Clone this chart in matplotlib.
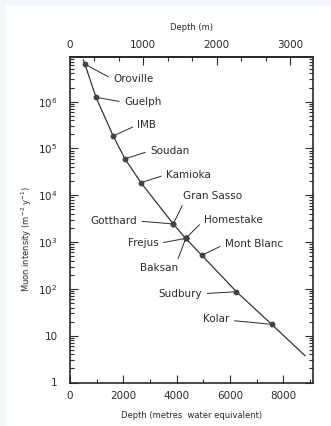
import math
import matplotlib
matplotlib.use("Agg")
import matplotlib.pyplot as plt
from matplotlib.patches import Rectangle
from matplotlib.ticker import MultipleLocator, LogLocator, FuncFormatter, NullFormatter

# sites: depth (metres water equivalent) and muon intensity (m^-2 y^-1)
sites = ["Oroville", "Guelph", "IMB", "Soudan", "Kamioka", "Gran Sasso", "Gotthard",
         "Homestake", "Frejus", "Baksan", "Mont Blanc", "Sudbury", "Kolar"]
site_depth = [560, 975, 1620, 2060, 2660, 3870, 3870, 4340, 4340, 4340, 4940, 6240, 7560]
site_flux = [6.3e6, 1.24e6, 1.85e5, 6.0e4, 1.86e4, 2.44e3, 2.44e3, 1.2e3, 1.2e3, 1.2e3, 523, 87, 17.5]

# curve through the points
curve_depth = [500, 560, 975, 1620, 2060, 2660, 3870, 4340, 4940, 6240, 7560, 8810]
curve_flux = [7.8e6, 6.3e6, 1.24e6, 1.85e5, 6.0e4, 1.86e4, 2.44e3, 1.2e3, 523, 87, 17.5, 3.74]

mwe_per_m = 2.75

# label placement: offset in pixels from point, alignment, leader attachment
label_style = {
    "Oroville":   (28, -15, "left", (0, 0.5)),
    "Guelph":     (28, -5, "left", (0, 0.5)),
    "IMB":        (24, 11, "left", (0, 0.5)),
    "Soudan":     (25, 8, "left", (0, 0.5)),
    "Kamioka":    (25, 8, "left", (0, 0.5)),
    "Gran Sasso": (10, 28, "left", (0.03, 0.1)),
    "Gotthard":   (-36, 3, "right", (1, 0.5)),
    "Homestake":  (18, 18, "left", (0, 0.5)),
    "Frejus":     (-27, -5, "right", (1, 0.5)),
    "Baksan":     (-27, -30, "center", (0.95, 0.9)),
    "Mont Blanc": (23, 11, "left", (0, 0.5)),
    "Sudbury":    (-34, -2, "right", (1, 0.5)),
    "Kolar":      (-42, 5, "right", (1, 0.4)),
}

plt.rcParams["font.family"] = ["DejaVu Sans"]
ink = "#2a2a2a"

fig = plt.figure(figsize=(3.31, 4.26), dpi=100, facecolor="#f4f8fc")
fig.patches.append(Rectangle((6 / 331, 0), 1, 1 - 5 / 426, transform=fig.transFigure,
                             facecolor="white", edgecolor="none", zorder=-10))
ax = fig.add_axes([70 / 331, 1 - 382.5 / 426, 243 / 331, 325.5 / 426])

ax.plot(curve_depth, curve_flux, color=ink, lw=0.85, zorder=2)
ax.plot(site_depth, site_flux, "o", color="#444444", ms=3.2, zorder=3)

for name, d, f in zip(sites, site_depth, site_flux):
    dx, dy, ha, rp = label_style[name]
    ax.annotate(name, xy=(d, f), xytext=(dx, dy), textcoords="offset pixels",
                ha=ha, va="center", fontsize=7.5, color=ink,
                arrowprops=dict(arrowstyle="-", color=ink, lw=0.7, relpos=rp,
                                shrinkA=1.5, shrinkB=1.5))

ax.set_yscale("log")
ax.set_xlim(0, 9110)
ax.set_ylim(1, 9e6)

ax.xaxis.set_major_locator(MultipleLocator(2000))
ax.xaxis.set_minor_locator(MultipleLocator(1000))
ax.yaxis.set_major_locator(LogLocator(base=10, numticks=10))
ax.yaxis.set_minor_locator(LogLocator(base=10, subs=range(2, 10), numticks=10))
ax.yaxis.set_minor_formatter(NullFormatter())


def ylab(v, pos):
    if v == 1:
        return "1"
    if v == 10:
        return "10"
    return r"$10^{%d}$" % round(math.log10(v))


ax.yaxis.set_major_formatter(FuncFormatter(ylab))

ax.tick_params(which="both", direction="in", top=False, right=True, color=ink,
               labelcolor=ink, labelsize=7.5, width=0.8)
ax.tick_params(which="major", length=6, pad=6)
ax.tick_params(which="minor", length=3)
ax.tick_params(axis="y", which="major", pad=9)
for s in ax.spines.values():
    s.set_linewidth(1.2)
    s.set_color(ink)

top = ax.secondary_xaxis("top", functions=(lambda x: x / mwe_per_m, lambda x: x * mwe_per_m))
top.xaxis.set_major_locator(MultipleLocator(1000))
top.xaxis.set_minor_locator(MultipleLocator(1000 / 3))
top.tick_params(which="both", direction="in", color=ink, labelcolor=ink, labelsize=7.5, width=0.8)
top.tick_params(which="major", length=6, pad=5)
top.tick_params(which="minor", length=3)
top.spines["top"].set_linewidth(1.2)
top.set_xlabel("Depth (m)", fontsize=6, color=ink, labelpad=7)

ax.set_xlabel("Depth (metres  water equivalent)", fontsize=6, color=ink, labelpad=7)
ax.set_ylabel(r"Muon intensity (m$^{-2}$ y$^{-1}$)", fontsize=6, color=ink)
ax.yaxis.set_label_coords(-0.15, 0.44)

fig.savefig("out.png", dpi=100, facecolor=fig.get_facecolor())
